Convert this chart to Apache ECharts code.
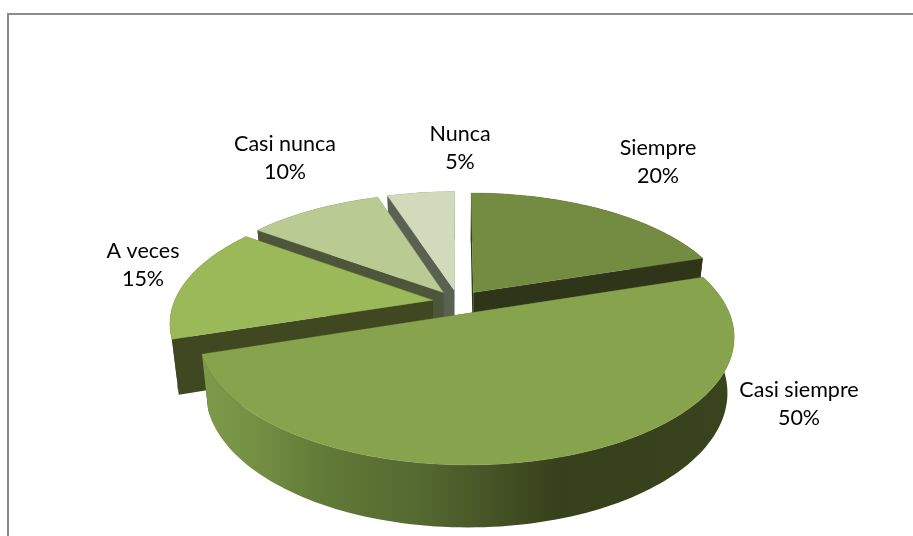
<!DOCTYPE html>
<html>
<head>
<meta charset="utf-8">
<style>html,body{margin:0;padding:0;background:#fff}#c{width:913px;height:536px}</style>
<script src="https://cdn.jsdelivr.net/npm/echarts@6/dist/echarts.min.js"></script>
</head>
<body>
<div id="c"></div>
<script>
const categories = ['Siempre', 'Casi siempre', 'A veces', 'Casi nunca', 'Nunca'];
const shares = [20, 50, 15, 10, 5];

// styling / layout, per category
const topColors = ['#748c42', '#87a34d', '#9bb959', '#b9ca93', '#d1dbbc'];
const sideColors = ['#2f3519', '#38421e', '#3f4820', '#4d553a', '#5a6151'];
const labelCenters = [[658, 162], [799, 404], [143, 265], [285, 158], [460, 148]];
const paintOrder = [4, 3, 2, 0, 1];   // back to front

// perspective projection of the tilted, exploded pie
const CX = 458.3, CY = 302, RX = 258.7, RY = 120, PERSP = 0.1765;
const EXPLODE = 0.1, DEPTH = 55, BASE_SHRINK = 1.025;

const total = shares.reduce((a, b) => a + b, 0);
const starts = shares.map((_, i) => shares.slice(0, i).reduce((a, b) => a + b, 0));

function project(wx, wy, lower) {
  const w = (1 - PERSP * wy) * (lower ? BASE_SHRINK : 1);
  return [CX + RX * wx / w, CY + (RY * wy + (lower ? DEPTH : 0)) / w];
}

function renderSlice(params, api) {
  const idx = api.value(0);
  const share = api.value(1);
  const a0 = api.value(2) / total * 2 * Math.PI;
  const a1 = a0 + share / total * 2 * Math.PI;
  const mid = (a0 + a1) / 2;
  const ox = EXPLODE * Math.sin(mid), oy = -EXPLODE * Math.cos(mid);
  const steps = Math.max(8, Math.round((a1 - a0) / (Math.PI / 120)));
  const rim = lower => {
    const pts = [];
    for (let s = 0; s <= steps; s++) {
      const a = a0 + (a1 - a0) * s / steps;
      pts.push(project(ox + Math.sin(a), oy - Math.cos(a), lower));
    }
    return pts;
  };
  const upper = rim(false), lowerRim = rim(true);
  const apexU = project(ox, oy, false), apexL = project(ox, oy, true);
  const side = sideColors[idx];
  const poly = (points, fill, edge) => ({
    type: 'polygon', shape: { points: points },
    style: { fill: fill, stroke: edge ? fill : null, lineWidth: edge ? 0.4 : 0 }, silent: true
  });
  // outer wall: the largest slice carries the horizontal shading of the reference
  const wallFill = share === Math.max.apply(null, shares) ? {
    type: 'linear', x: 205, y: 0, x2: 735, y2: 0, global: true,
    colorStops: [
      { offset: 0, color: '#7d9a4a' }, { offset: 0.1, color: '#748f42' },
      { offset: 0.22, color: '#627a37' }, { offset: 0.42, color: '#536730' },
      { offset: 0.6, color: '#3f4a21' }, { offset: 0.67, color: '#36411c' },
      { offset: 1, color: '#39431e' }
    ]
  } : side;
  const children = [
    poly([apexU, upper[0], lowerRim[0], apexL], side),
    poly([apexU, upper[steps], lowerRim[steps], apexL], side),
    poly(upper.concat(lowerRim.slice().reverse()), wallFill),
    poly([apexU].concat(upper), topColors[idx], true)
  ];
  return { type: 'group', children: children };
}

const chart = echarts.init(document.getElementById('c'));
chart.setOption({
  animation: false,
  backgroundColor: '#ffffff',
  graphic: {
    elements: [
      { type: 'rect', shape: { x: 7, y: 13, width: 2, height: 523 }, style: { fill: '#868686' }, z: 0, silent: true },
      { type: 'rect', shape: { x: 7, y: 13, width: 906, height: 2 }, style: { fill: '#8c8c8c' }, z: 0, silent: true }
    ].concat(categories.map((c, i) => ({
      type: 'text', x: labelCenters[i][0], y: labelCenters[i][1], z: 10, silent: true,
      style: {
        text: c + '\n' + shares[i] + '%', fill: '#000', align: 'center', verticalAlign: 'middle',
        font: '21.5px Lato', lineHeight: 28
      }
    })))
  },
  series: [{
    type: 'custom',
    coordinateSystem: 'none',
    silent: true,
    renderItem: renderSlice,
    encode: { value: 1, itemName: 3 },
    data: paintOrder.map(i => [i, shares[i], starts[i], categories[i]])
  }]
});
</script>
</body>
</html>
